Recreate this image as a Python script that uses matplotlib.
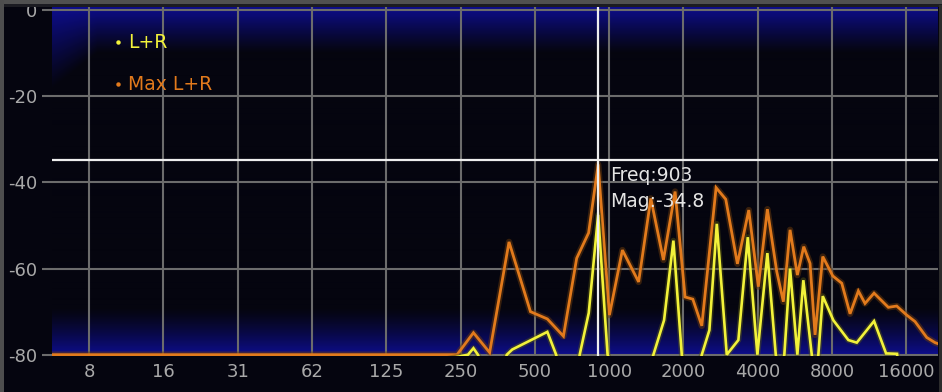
import numpy as np
import matplotlib
matplotlib.use("Agg")
import matplotlib.pyplot as plt
from matplotlib.lines import Line2D
from matplotlib.patches import Rectangle
import matplotlib.patheffects as pe

plt.rcParams['font.family'] = ['DejaVu Sans']
plt.rcParams['axes.unicode_minus'] = False

# ---------------- data ----------------
tick_hz = [7.8125, 15.625, 31.25, 62.5, 125, 250, 500, 1000, 2000, 4000, 8000, 16000]
tick_labels = ["8", "16", "31", "62", "125", "250", "500", "1000", "2000", "4000", "8000", "16000"]
db_ticks = [0, -20, -40, -60, -80]

max_hz = [5.5, 242, 282, 328, 393, 480, 562, 653, 739, 826, 903, 1003, 1132, 1317, 1476,
          1660, 1851, 2032, 2184, 2375, 2714, 2970, 3311, 3681, 4025, 4379, 4780, 5084,
          5412, 5793, 6148, 6521, 6833, 7343, 8061, 8767, 9473, 10234, 10892, 11849,
          13541, 14640, 16074, 17367, 19372, 20935, 21420]
max_db = [-80, -80, -74.9, -79.5, -53.8, -70.0, -71.7, -75.7, -57.6, -51.7, -35.8, -70.8,
          -55.7, -63.1, -43.7, -58.0, -42.1, -66.6, -67.1, -73.3, -41.2, -43.9, -58.9,
          -46.4, -64.2, -46.2, -60.7, -67.7, -51.0, -61.5, -54.9, -58.8, -75.4, -57.2,
          -61.7, -63.4, -70.5, -65.2, -68.1, -65.7, -69.0, -68.7, -70.8, -72.3, -76.0,
          -77.2, -77.4]

lr_hz = [5.5, 268, 282, 294, 340, 385, 405, 562, 610, 690, 760, 827, 903, 986, 1250, 1512,
         1670, 1822, 1970, 2170, 2375, 2549, 2732, 2998, 3341, 3648, 3989, 4379, 4736, 4930,
         5130, 5412, 5793, 6126, 6626, 6830, 7046, 7343, 8104, 9322, 10085, 11849, 13254,
         14686, 15500, 21420]
lr_db = [-100, -80, -78.5, -80, -90, -80, -78.8, -74.7, -80, -95, -80, -70.3, -47.5, -80,
         -95, -80, -72.0, -53.5, -80, -90, -80, -74.3, -49.6, -80, -76.6, -52.7, -80, -56.4,
         -80, -85, -80, -60.0, -80, -62.7, -80, -85, -80, -66.4, -72.0, -76.6, -77.2, -72.2,
         -79.7, -79.8, -95, -100]

cursor_hz = 903
cursor_db = -34.8

series_names = ["L+R", "Max L+R"]
series_colors = ["#f2f23a", "#e27a1c"]

# ---------------- figure ----------------
W, H = 942, 392
BG = "#05050f"
fig = plt.figure(figsize=(W / 100, H / 100), dpi=100, facecolor=BG)
L, R, T, B = 51.5, 937.5, 6.7, 355.5
rect = [L / W, 1 - B / H, (R - L) / W, (B - T) / H]

# background gradient axes
bg = fig.add_axes(rect, zorder=0)
bg.set_axis_off()
ph, pw = int(B - T), int(R - L)
rows = np.arange(ph)[:, None].astype(float)
cols = np.arange(pw)[None, :].astype(float)
top_len = 46 + 36 * np.clip(1 - cols / 45.0, 0, 1)
top_t = np.clip(1 - rows / top_len, 0, 1) ** 1.1
bot_t = np.clip((rows - (ph - 48)) / 48.0, 0, 1) ** 1.3
t = np.maximum(top_t, bot_t)
base = np.array([5, 5, 15]) / 255.0
blue = np.array([13, 13, 142]) / 255.0
img = base[None, None, :] * (1 - t[..., None]) + blue[None, None, :] * t[..., None]
bg.imshow(img, aspect='auto', extent=(0, 1, 0, 1), interpolation='bilinear')
bg.set_xlim(0, 1)
bg.set_ylim(0, 1)

ax = fig.add_axes(rect, zorder=1)
ax.patch.set_alpha(0)
ax.set_xscale('log', base=2)
ax.set_xlim(5.5, 21420)
ax.set_ylim(-80.19, 0.84)

for s in ax.spines.values():
    s.set_visible(False)

grid_c = "#6c6c6c"
ax.set_xticks(tick_hz)
ax.set_xticklabels(tick_labels)
ax.xaxis.set_minor_locator(matplotlib.ticker.NullLocator())
ax.set_yticks(db_ticks)
ax.set_yticklabels([str(v) for v in db_ticks])
ax.tick_params(axis='x', length=0, pad=5.5, labelsize=13, labelcolor="#a9a9a9")
ax.tick_params(axis='y', length=7.2, width=1.5, color=grid_c, pad=3,
               labelsize=13, labelcolor="#a9a9a9")
ax.grid(True, color=grid_c, lw=1.5, zorder=1)
ax.set_axisbelow(True)

glow_o = [pe.Stroke(linewidth=4.6, foreground="#6a3a0c", alpha=0.5, joinstyle='round'),
          pe.Normal()]
glow_y = [pe.Stroke(linewidth=4.2, foreground="#5a5a10", alpha=0.45, joinstyle='round'),
          pe.Normal()]
ax.plot(max_hz, max_db, color=series_colors[1], lw=2.0, zorder=3,
        solid_joinstyle='miter', path_effects=glow_o)
ax.plot(lr_hz, lr_db, color=series_colors[0], lw=1.9, zorder=4,
        solid_joinstyle='miter', path_effects=glow_y)

# cursor
ax.axvline(cursor_hz, color="#eeeeee", lw=1.6, zorder=5)
ax.axhline(cursor_db, color="#eeeeee", lw=1.6, zorder=5)
ax.annotate(f"Freq:{cursor_hz}", xy=(cursor_hz, cursor_db), xytext=(12, -21),
            textcoords='offset pixels', ha='left', va='baseline',
            color="#e4e4e4", fontsize=13.5, zorder=6)
ax.annotate(f"Mag:{cursor_db}", xy=(cursor_hz, cursor_db), xytext=(12, -47),
            textcoords='offset pixels', ha='left', va='baseline',
            color="#e4e4e4", fontsize=13.5, zorder=6)

# legend
handles = [Line2D([], [], marker='o', ls='none', markersize=3.2, color=c,
                  markeredgewidth=0) for c in series_colors]
leg = ax.legend(handles, series_names, loc='upper left', bbox_to_anchor=(0.0708, 0.9235),
                frameon=False, fontsize=13.5, handlelength=0.4, handletextpad=0.34,
                borderpad=0, borderaxespad=0, labelspacing=1.21,
                labelcolor=series_colors)

# frame (drawn above the axes so the top of the "0" label is cut, as in the reference)
for (x0, y0, w, h, c, z) in [
        (0, 1 - 4.5 / H, 1, 4.5 / H, "#505050", 20),
        (0, 1 - 7.2 / H, 1, 2.7 / H, "#1c1c22", 20),
        (0, 0, 3.5 / W, 1, "#4e4e4e", 21),
        (938.5 / W, 0, 3.5 / W, 1 - 4.5 / H, "#2c2c2c", 20)]:
    fig.add_artist(Rectangle((x0, y0), w, h, transform=fig.transFigure,
                             facecolor=c, edgecolor='none', zorder=z))

fig.savefig("out.png", dpi=100, facecolor=BG)
